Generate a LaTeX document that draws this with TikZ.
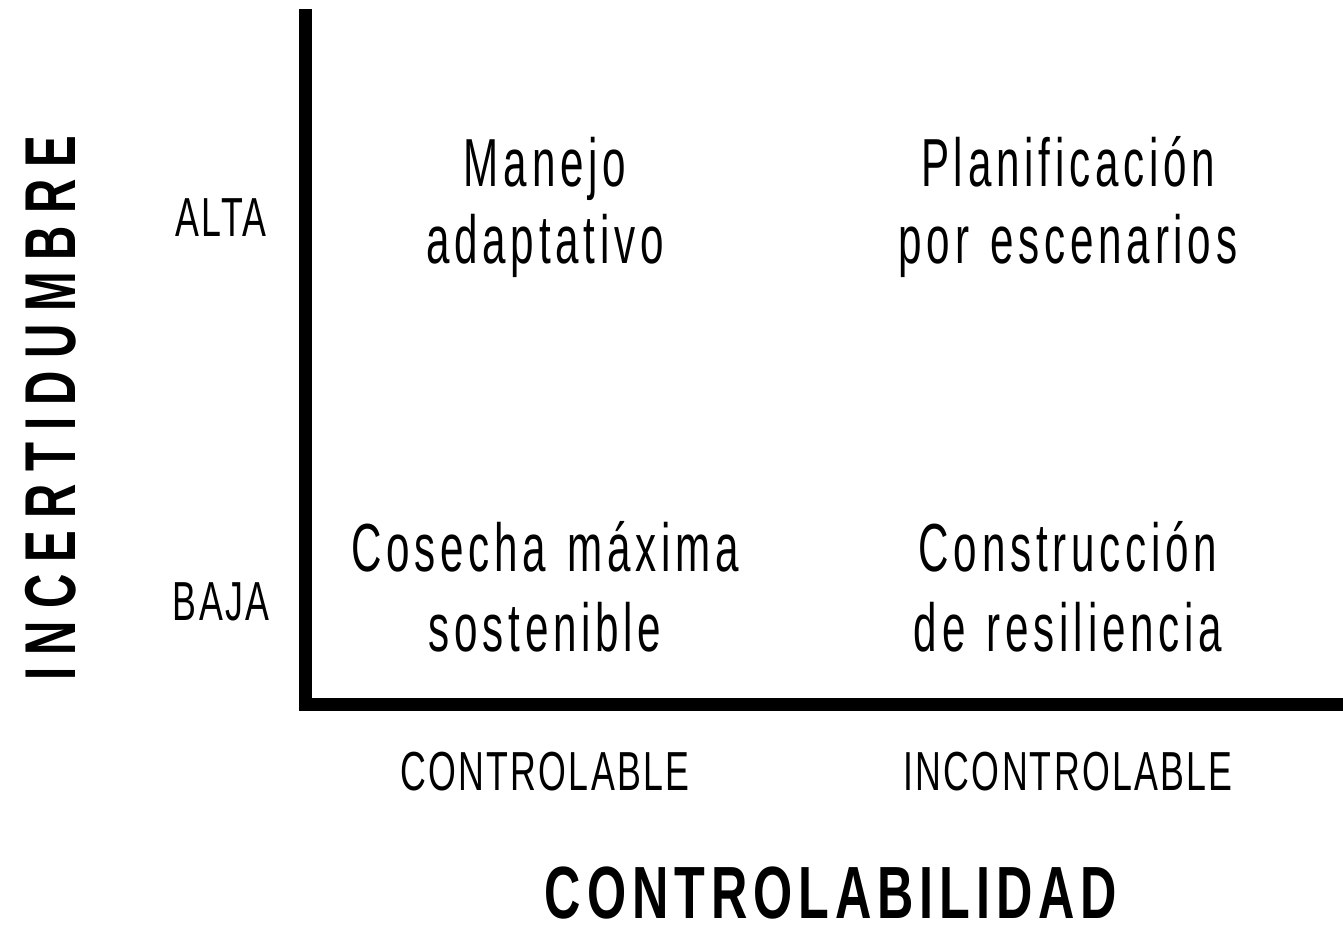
\documentclass[tikz,border=0pt]{standalone}
\usepackage{fontspec}
\setmainfont[FakeStretch=0.62,LetterSpace=7,WordSpace=1.3]{Liberation Sans}
\newfontfamily\levfont[FakeStretch=0.65,LetterSpace=4]{Liberation Sans}
\newfontfamily\boldax[FakeStretch=0.68,LetterSpace=8]{Liberation Sans Bold}
\newfontfamily\boldvert[FakeStretch=0.66,LetterSpace=17]{Liberation Sans Bold}
\begin{document}
\begin{tikzpicture}[x=1pt,y=-1pt,
  quad/.style={anchor=base,font=\fontsize{68}{78}\selectfont,inner sep=0pt},
  lev/.style={anchor=base,font=\levfont\fontsize{55}{60}\selectfont,inner sep=0pt},
  axis/.style={line width=13pt}]
\useasboundingbox (0,0) rectangle (1343,925);
\coordinate (top) at (305.5,9.5);
\coordinate (corner) at (305.5,704);
\coordinate (right) at (1343,704);
\draw[axis] (top) -- (305.5,710.5);
\draw[axis] (299,704) -- (right);
% quadrant labels
\node[quad] (q1a) at (545,187) {Manejo};
\node[quad] (q1b) at (545,264) {adaptativo};
\node[quad] (q2a) at (1068,187) {Planificación};
\node[quad] (q2b) at (1068,264) {por escenarios};
\node[quad] (q3a) at (545,571) {Cosecha máxima};
\node[quad] (q3b) at (545,651) {sostenible};
\node[quad] (q4a) at (1068,571) {Construcción};
\node[quad] (q4b) at (1068,651) {de resiliencia};
% levels
\node[lev] (alta) at (221,237) {ALTA};
\node[lev] (baja) at (221,620) {BAJA};
\node[lev] (contr) at (545,790) {CONTROLABLE};
\node[lev] (incontr) at (1068,790) {INCONTROLABLE};
% axis titles
\node[anchor=base,inner sep=0pt,font=\boldax\fontsize{74}{80}\selectfont] (xt) at (831,918) {CONTROLABILIDAD};
\node[anchor=base,inner sep=0pt,rotate=90,font=\boldvert\fontsize{72}{80}\selectfont] (yt) at (75,408) {INCERTIDUMBRE};
\end{tikzpicture}
\end{document}
